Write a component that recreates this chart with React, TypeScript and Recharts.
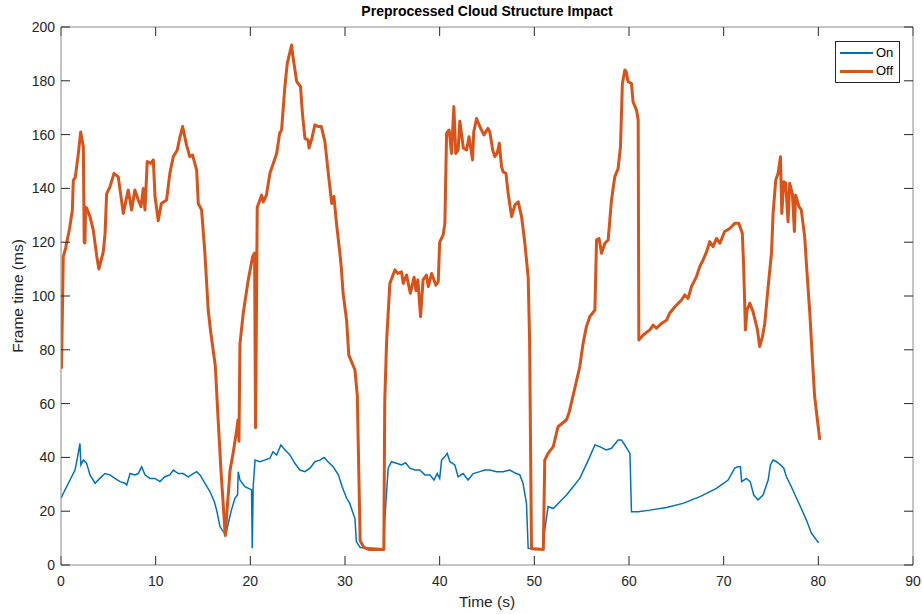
import { LineChart, Line, XAxis, YAxis } from "recharts";

// axis ticks
const X_TICKS = [0, 10, 20, 30, 40, 50, 60, 70, 80, 90];
const Y_TICKS = [0, 20, 40, 60, 80, 100, 120, 140, 160, 180, 200];

// [time (s), frame time (ms)]
const ON_POINTS: [number, number][] = [
  [0, 24.8], [0.42, 27.9], [0.95, 31.6], [1.48, 35.3], [1.76, 40.3], [2.0, 45.2], [2.1, 37.2],
  [2.36, 39], [2.71, 37.8], [3.06, 33.5], [3.6, 30.4], [4.1, 32.2], [4.65, 34], [5.17, 33.5],
  [5.7, 32.2], [6.23, 31], [6.76, 30.4], [6.94, 29.7], [7.3, 34], [7.8, 33.5], [8.16, 34],
  [8.52, 36.5], [8.87, 33.5], [9.4, 32.2], [9.93, 32.2], [10.45, 31], [10.98, 32.8], [11.5, 33.5],
  [11.86, 35.3], [12.39, 34], [12.9, 34], [13.44, 32.8], [13.97, 34], [14.33, 34.7], [14.68, 33.5],
  [15.2, 30.4], [15.73, 27.3], [16.2, 23.5], [16.44, 20.4], [16.8, 14.2], [17.15, 12.4], [17.4, 11.2],
  [17.67, 15.5], [18.0, 20.4], [18.37, 24.8], [18.65, 26], [18.72, 34.7], [18.9, 31.6], [19.43, 29.1],
  [20.13, 27.9], [20.2, 6.2], [20.3, 29.1], [20.5, 39], [21.0, 38.4], [21.5, 39], [22.07, 39.7],
  [22.4, 42.1], [22.78, 40.9], [23.23, 44.6], [23.65, 42.8], [24.18, 40.9], [24.7, 37.8], [25.24, 35.3],
  [25.77, 34.7], [26.3, 36], [26.82, 38.4], [27.35, 39], [27.8, 40], [28.2, 38.4], [28.75, 36.5],
  [29.3, 33.5], [29.7, 29.1], [30.17, 24.8], [30.5, 22.9], [30.97, 18], [31.05, 17.4], [31.2, 8.7],
  [31.6, 6.5], [34.1, 6], [34.2, 16.7], [34.56, 36], [34.9, 38.4], [35.45, 37.8], [35.97, 37.2],
  [36.4, 38], [36.85, 36], [37.38, 35.3], [37.9, 35.3], [38.44, 33.5], [38.97, 33.5], [39.4, 31.6],
  [39.74, 34], [40.0, 32.2], [40.2, 39], [40.55, 40.3], [40.8, 41.5], [41.08, 38.4], [41.6, 37.2],
  [41.95, 32.8], [42.48, 34], [43.0, 31.6], [43.54, 34], [44.24, 34.7], [44.77, 35.3], [45.3, 35.3],
  [46.0, 34.7], [46.7, 34.7], [47.4, 35.3], [48.1, 34], [48.47, 33.5], [48.8, 30.4], [49.17, 22.9],
  [49.35, 6.2], [50.9, 6], [51.0, 10.5], [51.3, 18], [51.45, 21.7], [52.0, 21], [52.7, 23.5],
  [53.4, 26], [54.1, 29.1], [54.8, 32.2], [55.7, 39], [56.4, 44.6], [56.9, 44], [57.6, 42.8],
  [58.15, 43.4], [58.85, 46.5], [59.2, 46.5], [59.56, 44.6], [60.1, 41.5], [60.26, 19.8], [60.96, 19.8],
  [62.2, 20.4], [63.96, 21.4], [65.7, 22.9], [67.5, 25.4], [69.24, 28.5], [70.47, 31.6], [71.17, 36],
  [71.5, 36.5], [71.77, 36.5], [71.9, 31], [72.4, 32.2], [72.8, 31], [73.18, 26], [73.63, 24.2],
  [74.16, 26], [74.7, 31.6], [74.94, 37.2], [75.22, 39], [75.58, 38.4], [76, 37.2], [76.35, 36],
  [76.63, 32.8], [77.15, 29.1], [77.7, 24.8], [78.2, 21], [78.74, 16.7], [79.27, 11.8], [79.8, 9.3],
  [80.04, 8.3],
];

const OFF_POINTS: [number, number][] = [
  [0.05, 73], [0.24, 114.6], [0.5, 118], [0.9, 125], [1.2, 132], [1.3, 143], [1.5, 144], [1.8, 152],
  [2.08, 161], [2.36, 155.5], [2.45, 120], [2.53, 119.7], [2.6, 133], [2.71, 132.7], [3.06, 129.5],
  [3.41, 124.5], [3.77, 115], [4.0, 110], [4.47, 116.5], [4.65, 123], [4.82, 138], [5.17, 140.6],
  [5.6, 145.6], [6.05, 144.3], [6.58, 130.7], [7.1, 139.4], [7.46, 132], [7.8, 139.4], [8.16, 135.7],
  [8.45, 133.2], [8.69, 140], [8.87, 132], [9.11, 150], [9.47, 149.3], [9.75, 150.6], [9.93, 137],
  [10.27, 128], [10.6, 134.4], [11.15, 135.7], [11.5, 145.6], [11.86, 151.8], [12.28, 154.3],
  [12.57, 159.2], [12.85, 163], [13.27, 156], [13.6, 151.8], [13.9, 152.4], [14.33, 146.8],
  [14.5, 134.4], [14.85, 132], [15.2, 115.9], [15.55, 94.8], [15.8, 87], [16.3, 74], [16.6, 54],
  [16.9, 35], [17.35, 11], [17.85, 35], [18.2, 42], [18.55, 50], [18.7, 54], [18.8, 46], [18.9, 82],
  [19.25, 93.6], [19.78, 106], [20.24, 114.6], [20.45, 116], [20.55, 51], [20.73, 133], [21.2, 137.5],
  [21.37, 135], [21.7, 137.5], [22.07, 145.6], [22.78, 153], [23.1, 160.5], [23.3, 161.7],
  [23.65, 177.8], [23.9, 186.5], [24.36, 193.3], [24.5, 189], [24.9, 179.7], [25.3, 177.8], [25.5, 168],
  [25.77, 158.6], [26.1, 158], [26.2, 155], [26.5, 158.6], [26.82, 163.6], [27.2, 163], [27.5, 163],
  [27.88, 157.4], [28.2, 146.8], [28.6, 134.4], [28.83, 137], [29.1, 127], [29.46, 115.9], [29.6, 111],
  [29.8, 101], [30.17, 91], [30.4, 78], [31.05, 72.5], [31.3, 63], [31.6, 9], [32, 6.5], [32.5, 5.8],
  [34.1, 5.8], [34.2, 61], [34.4, 83.6], [34.74, 104.7], [35.27, 109.7], [35.6, 108.4], [35.97, 109],
  [36.15, 104.7], [36.5, 107.8], [36.9, 101], [37.3, 107], [37.5, 102], [37.7, 106], [37.98, 92.3],
  [38.25, 106], [38.6, 107.8], [38.8, 103.5], [39.15, 108.4], [39.6, 104], [39.85, 105.3], [40.0, 120],
  [40.37, 122.7], [40.55, 127], [40.73, 160.5], [41.0, 161.7], [41.25, 153], [41.5, 170.4], [41.7, 153],
  [41.95, 154.3], [42.13, 165], [42.5, 155], [42.84, 154.3], [43.1, 159.2], [43.47, 150.6], [43.6, 161],
  [43.9, 166], [44.24, 163], [44.67, 159.9], [45.1, 162.3], [45.3, 161], [45.6, 154.3], [45.83, 151.8],
  [46.07, 153], [46.3, 156.8], [46.54, 148], [46.7, 146.2], [47, 145.6], [47.24, 138], [47.6, 129.5],
  [47.94, 133.8], [48.3, 135], [48.65, 129.5], [49.0, 119.6], [49.35, 107], [49.5, 83.6], [49.7, 6],
  [50.95, 5.8], [51.1, 39], [51.45, 41.5], [52.0, 44], [52.5, 51.4], [53.4, 54], [53.7, 57],
  [54.8, 73.7], [55.15, 82.4], [55.5, 88.6], [55.86, 92.3], [56.4, 94.8], [56.57, 120.8], [56.84, 121.4],
  [57.1, 115.9], [57.45, 119.6], [57.8, 120.8], [58.15, 135.7], [58.5, 144.3], [58.85, 147.4],
  [59.1, 155.5], [59.3, 179], [59.56, 184], [59.7, 183.4], [59.9, 179.7], [60.26, 179], [60.43, 172.2],
  [60.8, 169], [60.97, 165.4], [61.04, 83.6], [61.5, 85.5], [62.2, 87.4], [62.55, 89.2], [62.9, 88],
  [63.43, 89.8], [63.96, 91], [64.3, 93.6], [64.84, 96], [65.54, 98.5], [65.9, 100.4], [66.24, 99.1],
  [66.6, 103.5], [67.1, 107], [67.48, 111], [67.83, 113.4], [68.2, 116.5], [68.53, 120.2], [68.88, 118.3],
  [69.24, 121.4], [69.6, 119.6], [70.1, 124], [70.64, 125.1], [71.17, 127], [71.6, 127], [71.97, 123.3],
  [72.1, 112], [72.3, 87.4], [72.47, 94.8], [72.76, 97.3], [73.1, 94.2], [73.4, 89.8], [73.57, 87.4],
  [73.8, 81.2], [74.1, 84.9], [74.34, 89.8], [74.7, 103.5], [75.05, 115.9], [75.22, 130.7], [75.5, 143],
  [75.75, 145.6], [76.0, 151.8], [76.14, 130.7], [76.35, 142.5], [76.56, 141.9], [76.8, 127.6],
  [76.98, 141.9], [77.26, 138], [77.47, 124], [77.6, 137.5], [77.96, 133.2], [78.2, 132], [78.56, 122],
  [78.74, 112], [79.1, 93.6], [79.44, 72.5], [79.6, 63], [79.9, 54], [80.15, 46.5],
];

const toRows = (pts: [number, number][]) => pts.map(([t, v]) => ({ t, v }));
const onData = toRows(ON_POINTS);
const offData = toRows(OFF_POINTS);

const FONT = '"Liberation Sans", Arial, Helvetica, sans-serif';
const INK = "#262626";
const AXIS_LINE = "#8a8a8a";
const BLUE = "#0072BD";
const ORANGE = "#D95319";

function LegendBox() {
  const row = (label: string, color: string, w: number) => (
    <div style={{ display: "flex", alignItems: "center", height: 18 }}>
      <div style={{ width: 33, height: w, background: color, marginRight: 3 }} />
      <span>{label}</span>
    </div>
  );
  return (
    <div
      style={{
        position: "absolute",
        left: 835,
        top: 41,
        width: 59,
        height: 38,
        border: `1px solid ${INK}`,
        background: "#fff",
        padding: "2px 0 0 4px",
        fontFamily: FONT,
        fontSize: 13,
        color: "#000",
        lineHeight: "18px",
      }}
    >
      {row("On", BLUE, 1.5)}
      {row("Off", ORANGE, 3)}
    </div>
  );
}

export default function App() {
  const tickStyle = { fontSize: 14, fill: INK, fontFamily: FONT };
  const hiddenTick = { fontSize: 1, fill: "transparent" };
  return (
    <div
      style={{
        position: "absolute",
        left: 0,
        top: 0,
        width: 922,
        height: 614,
        background: "#fff",
        fontFamily: FONT,
      }}
    >
      <LineChart
        width={922}
        height={614}
        margin={{ top: 16, right: 0, bottom: 19, left: 21 }}
      >
        <XAxis
          dataKey="t"
          type="number"
          domain={[0, 90]}
          ticks={X_TICKS}
          allowDataOverflow
          height={30}
          stroke={AXIS_LINE}
          tickLine={{ stroke: INK }}
          tickSize={-9}
          tickMargin={20}
          tick={tickStyle}
        />
        {/* box: top and right axes share the same domains */}
        <XAxis
          xAxisId="top"
          dataKey="t"
          orientation="top"
          type="number"
          domain={[0, 90]}
          ticks={X_TICKS}
          allowDataOverflow
          height={11}
          stroke={AXIS_LINE}
          tickLine={{ stroke: INK }}
          tickSize={-9}
          tick={hiddenTick}
        />
        <YAxis
          type="number"
          domain={[0, 200]}
          ticks={Y_TICKS}
          allowDataOverflow
          width={40}
          stroke={AXIS_LINE}
          tickLine={{ stroke: INK }}
          tickSize={-9}
          tickMargin={15}
          tick={tickStyle}
        />
        <YAxis
          yAxisId="right"
          orientation="right"
          type="number"
          domain={[0, 200]}
          ticks={Y_TICKS}
          allowDataOverflow
          width={9}
          stroke={AXIS_LINE}
          tickLine={{ stroke: INK }}
          tickSize={-9}
          tick={hiddenTick}
        />
        <Line
          data={onData}
          dataKey="v"
          name="On"
          type="linear"
          stroke={BLUE}
          strokeWidth={1.5}
          dot={false}
          activeDot={false}
          isAnimationActive={false}
        />
        <Line
          data={offData}
          xAxisId="top"
          yAxisId="right"
          dataKey="v"
          name="Off"
          type="linear"
          stroke={ORANGE}
          strokeWidth={3}
          strokeLinejoin="round"
          dot={false}
          activeDot={false}
          isAnimationActive={false}
        />
      </LineChart>

      <LegendBox />

      {/* title and axis labels */}
      <div
        style={{
          position: "absolute",
          left: 61,
          width: 852,
          top: 3,
          textAlign: "center",
          fontWeight: "bold",
          fontSize: 14,
          color: "#000",
        }}
      >
        Preprocessed Cloud Structure Impact
      </div>
      <div
        style={{
          position: "absolute",
          left: 61,
          width: 852,
          top: 593,
          textAlign: "center",
          fontSize: 15.5,
          color: INK,
        }}
      >
        Time (s)
      </div>
      <div
        style={{
          position: "absolute",
          left: 18,
          top: 296,
          transform: "translate(-50%, -50%) rotate(-90deg)",
          whiteSpace: "nowrap",
          fontSize: 15.5,
          color: INK,
        }}
      >
        Frame time (ms)
      </div>
    </div>
  );
}
